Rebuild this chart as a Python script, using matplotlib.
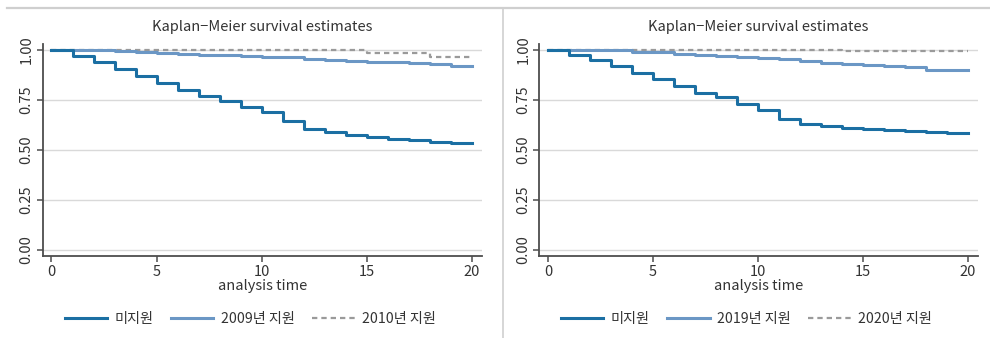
import matplotlib
matplotlib.use("Agg")
import matplotlib.pyplot as plt
from matplotlib.lines import Line2D

plt.rcParams['font.family'] = ['Noto Sans CJK KR', 'DejaVu Sans']

# survival estimates by analysis time (0..20)
time = list(range(0, 21))

left_none = [1.000, 0.972, 0.940, 0.905, 0.870, 0.837, 0.800, 0.770, 0.743, 0.717, 0.690,
             0.643, 0.603, 0.588, 0.573, 0.565, 0.557, 0.548, 0.540, 0.535, 0.535]
left_2009 = [1.000, 1.000, 1.000, 0.993, 0.988, 0.985, 0.980, 0.977, 0.974, 0.970, 0.967,
             0.963, 0.955, 0.951, 0.946, 0.942, 0.938, 0.934, 0.928, 0.922, 0.922]
left_2010 = [1.000, 1.000, 1.000, 1.000, 1.000, 1.000, 1.000, 1.000, 1.000, 1.000, 1.000,
             1.000, 1.000, 1.000, 1.000, 0.986, 0.986, 0.986, 0.965, 0.965, 0.965]

right_none = [1.000, 0.975, 0.950, 0.920, 0.887, 0.855, 0.820, 0.787, 0.763, 0.728, 0.700,
              0.657, 0.630, 0.620, 0.612, 0.605, 0.600, 0.595, 0.592, 0.587, 0.587]
right_2019 = [1.000, 1.000, 1.000, 1.000, 0.992, 0.988, 0.982, 0.977, 0.970, 0.965, 0.962,
              0.955, 0.943, 0.935, 0.930, 0.925, 0.920, 0.915, 0.902, 0.902, 0.902]
right_2020 = [1.000, 1.000, 1.000, 1.000, 1.000, 1.000, 1.000, 1.000, 1.000, 1.000, 1.000,
              1.000, 1.000, 1.000, 0.995, 0.995, 0.995, 0.995, 0.995, 0.995, 0.995]

left_labels = ["미지원", "2009년 지원", "2010년 지원"]
right_labels = ["미지원", "2019년 지원", "2020년 지원"]

x_ticks = [0, 5, 10, 15, 20]
y_ticks = [0.00, 0.25, 0.50, 0.75, 1.00]

c_none = "#1b6fa3"
c_sup = "#6b97c5"
c_dash = "#9a9a9a"
axis_c = "#4d4d4d"
text_c = "#333333"

fig = plt.figure(figsize=(9.9, 3.38), dpi=100)
ax1 = fig.add_axes([0.0431, 0.2426, 0.4435, 0.627])
ax2 = fig.add_axes([0.5448, 0.2426, 0.4428, 0.627])

panels = [
    (ax1, left_none, left_2009, left_2010, left_labels, 262 / 990),
    (ax2, right_none, right_2019, right_2020, right_labels, 758 / 990),
]

for ax, s0, s1, s2, labels, cx in panels:
    for y in y_ticks:
        ax.axhline(y, color="#d9d9d9", lw=1.0, zorder=0)
    h2, = ax.step(time, s2, where="post", color=c_dash, lw=1.6, ls=(0, (2.4, 1.8)), label=labels[2])
    h1, = ax.step(time, s1, where="post", color=c_sup, lw=2.2, label=labels[1])
    h0, = ax.step(time, s0, where="post", color=c_none, lw=2.2, label=labels[0])

    ax.set_xlim(-0.42, 20.47)
    ax.set_ylim(-0.03, 1.03)
    ax.set_xticks(x_ticks)
    ax.set_yticks(y_ticks)
    ax.set_yticklabels([f"{v:.2f}" for v in y_ticks], rotation=90, va="center")
    ax.tick_params(colors=axis_c, labelcolor=text_c, labelsize=10.5, length=4, width=1.1, pad=2.5)
    for side in ("top", "right"):
        ax.spines[side].set_visible(False)
    for side in ("left", "bottom"):
        ax.spines[side].set_color(axis_c)
        ax.spines[side].set_linewidth(1.3)

    ax.set_xlabel("analysis time", fontsize=10.5, color=text_c, labelpad=0)
    fig.text(cx, 1 - 27 / 338, "Kaplan\u2212Meier survival estimates", ha="center", va="center",
             fontsize=10.5, color=text_c)
    fig.legend([h0, h1, h2], labels, loc="center", bbox_to_anchor=(cx - 0.012, 1 - 319 / 338),
               ncol=3, frameon=False, fontsize=10.2, handlelength=3.0, handletextpad=0.5,
               columnspacing=1.25, labelcolor=text_c)

# frame lines around the panels
fig.add_artist(Line2D([7 / 990, 1.0], [1 - 8 / 338, 1 - 8 / 338], color="#cfcfcf", lw=1.6))
fig.add_artist(Line2D([502.5 / 990, 502.5 / 990], [0, 1 - 8 / 338], color="#cfcfcf", lw=1.2))

fig.savefig("out.png", dpi=100)
